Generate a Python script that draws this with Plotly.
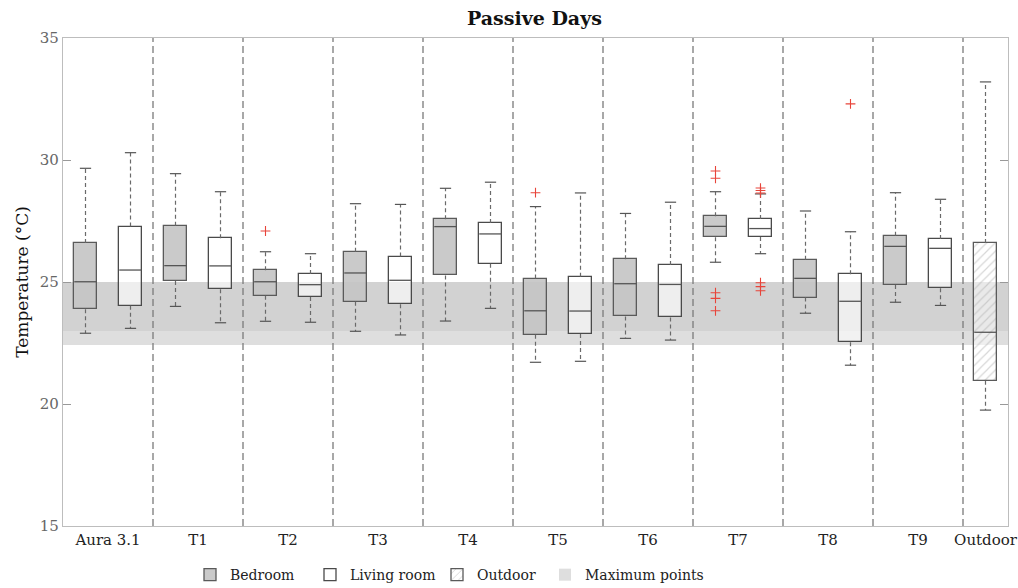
import plotly.graph_objects as go

# ---------------- data ----------------
groups = ["Aura 3.1", "T1", "T2", "T3", "T4", "T5", "T6", "T7", "T8", "T9"]

# Bedroom boxes (one per group)
bed_low = [22.90, 24.00, 23.39, 22.98, 23.40, 21.71, 22.69, 25.81, 23.72, 24.17]
bed_q1 = [23.88, 25.04, 24.44, 24.19, 25.27, 22.84, 23.59, 26.83, 24.36, 24.88]
bed_med = [25.01, 25.67, 25.01, 25.37, 27.27, 23.82, 24.93, 27.28, 25.15, 26.46]
bed_q3 = [26.60, 27.31, 25.48, 26.24, 27.57, 25.14, 25.93, 27.69, 25.91, 26.90]
bed_high = [29.66, 29.44, 26.24, 28.21, 28.84, 28.09, 27.81, 28.70, 27.91, 28.66]

# Living room boxes
liv_low = [23.10, 23.33, 23.35, 22.83, 23.92, 21.75, 22.62, 26.16, 21.59, 24.04]
liv_q1 = [24.03, 24.70, 24.39, 24.09, 25.75, 22.87, 23.55, 26.84, 22.53, 24.74]
liv_med = [25.49, 25.66, 24.89, 25.07, 26.97, 23.81, 24.90, 27.19, 24.21, 26.38]
liv_q3 = [27.27, 26.79, 25.33, 26.04, 27.42, 25.22, 25.70, 27.58, 25.32, 26.76]
liv_high = [30.30, 28.70, 26.16, 28.18, 29.09, 28.65, 28.27, 28.61, 27.06, 28.39]

# Outdoor box
out_label = "Outdoor"
out_low, out_q1, out_med, out_q3, out_high = 19.75, 20.95, 22.94, 26.60, 33.20

# Outliers: (box position index, value)
outlier_pos = [5, 11, 15, 15, 15, 15, 15, 16, 16, 16, 16, 16, 16, 18]
outlier_val = [27.09, 28.66, 29.55, 29.25, 24.56, 24.33, 23.82,
               28.85, 28.75, 28.65, 24.97, 24.81, 24.64, 32.30]

# Maximum-points band and inner band
band_outer = (22.40, 25.00)
band_inner = (23.00, 25.00)

legend_names = ["Bedroom", "Living room", "Outdoor", "Maximum points"]

# ---------------- positions ----------------
bed_x = [1 + 2 * i for i in range(len(groups))]
liv_x = [2 + 2 * i for i in range(len(groups))]
out_x = 2 * len(groups) + 1
sep_x = [2.5 + 2 * i for i in range(len(groups))]
tick_vals = [1.5 + 2 * i for i in range(len(groups))] + [out_x]
tick_text = groups + [out_label]
BW = 0.5
CAP = 0.125
XMIN, XMAX = 0.5, out_x + 0.5

SERIF = "DejaVu Serif"
fig = go.Figure()

# Bands as wide bars (drawn first)
fig.add_trace(go.Bar(x=[(XMIN + XMAX) / 2], y=[band_outer[1] - band_outer[0]], base=[band_outer[0]],
                     width=[XMAX - XMIN], marker=dict(color="#dedede", line=dict(width=0)),
                     name=legend_names[3], legend="legend4", hoverinfo="skip"))
fig.add_trace(go.Bar(x=[(XMIN + XMAX) / 2], y=[band_inner[1] - band_inner[0]], base=[band_inner[0]],
                     width=[XMAX - XMIN], marker=dict(color="#d2d2d2", line=dict(width=0)),
                     showlegend=False, hoverinfo="skip"))

# Boxes as bars
fig.add_trace(go.Bar(x=bed_x, y=[b - a for a, b in zip(bed_q1, bed_q3)], base=bed_q1, width=BW,
                     marker=dict(color="rgba(196,196,196,0.9)", line=dict(color="#5a5a5a", width=1.3)),
                     name=legend_names[0], legend="legend"))
fig.add_trace(go.Bar(x=liv_x, y=[b - a for a, b in zip(liv_q1, liv_q3)], base=liv_q1, width=BW,
                     marker=dict(color="rgba(255,255,255,0.62)", line=dict(color="#4a4a4a", width=1.3)),
                     name=legend_names[1], legend="legend2"))
fig.add_trace(go.Bar(x=[out_x], y=[out_q3 - out_q1], base=[out_q1], width=BW,
                     marker=dict(color="rgba(255,255,255,0.5)", line=dict(color="#5a5a5a", width=1.3),
                                 pattern=dict(shape="/", fgcolor="#b0b0b0", size=6, solidity=0.2)),
                     name=legend_names[2], legend="legend3"))

# Whiskers, caps, medians
all_x = bed_x + liv_x + [out_x]
all_low = bed_low + liv_low + [out_low]
all_q1 = bed_q1 + liv_q1 + [out_q1]
all_med = bed_med + liv_med + [out_med]
all_q3 = bed_q3 + liv_q3 + [out_q3]
all_high = bed_high + liv_high + [out_high]

wx, wy, cx, cy, mx, my = [], [], [], [], [], []
for x, lo, q1, md, q3, hi in zip(all_x, all_low, all_q1, all_med, all_q3, all_high):
    wx += [x, x, None, x, x, None]
    wy += [q3, hi, None, q1, lo, None]
    cx += [x - CAP, x + CAP, None, x - CAP, x + CAP, None]
    cy += [hi, hi, None, lo, lo, None]
    mx += [x - BW / 2, x + BW / 2, None]
    my += [md, md, None]

fig.add_trace(go.Scatter(x=wx, y=wy, mode="lines", line=dict(color="#6a6a6a", width=1.2, dash="4px,3px"),
                         showlegend=False, hoverinfo="skip"))
fig.add_trace(go.Scatter(x=cx, y=cy, mode="lines", line=dict(color="#555", width=1.2),
                         showlegend=False, hoverinfo="skip"))
fig.add_trace(go.Scatter(x=mx, y=my, mode="lines", line=dict(color="#555", width=1.3),
                         showlegend=False, hoverinfo="skip"))
fig.add_trace(go.Scatter(x=outlier_pos, y=outlier_val, mode="markers",
                         marker=dict(symbol="cross-thin", size=7, line=dict(color="#e8443a", width=1.1)),
                         showlegend=False, hoverinfo="skip"))

# Separators
for s in sep_x:
    fig.add_shape(type="line", x0=s, x1=s, y0=15, y1=35, xref="x", yref="y",
                  line=dict(color="#7a7a7a", width=1.3, dash="7px,4px"), layer="above")

PL, PR = 63, 1008
def px2paper(p):
    return (p - PL) / (PR - PL)

leg_common = dict(orientation="h", yref="container", y=0.022, yanchor="middle", xanchor="left",
                  font=dict(family=SERIF, size=14, color="#222"), bgcolor="rgba(0,0,0,0)",
                  borderwidth=0, itemwidth=30)
text_starts = [190, 310, 437, 545]

fig.update_layout(
    width=1018, height=588,
    margin=dict(l=PL, r=1018 - PR, t=38, b=62, autoexpand=False),
    plot_bgcolor="white", paper_bgcolor="white",
    barmode="overlay", bargap=0,
    title=dict(text="<b>Passive Days</b>", x=0.525, xanchor="center", y=0.968, yanchor="middle",
               font=dict(family=SERIF, size=19, color="#111")),
    font=dict(family=SERIF, color="#333"),
    xaxis=dict(range=[XMIN, XMAX], tickvals=tick_vals, ticktext=tick_text, ticks="",
               showgrid=False, zeroline=False, showline=True, linecolor="#bdbdbd", linewidth=1.2,
               mirror=True, automargin=False, tickfont=dict(family=SERIF, size=15, color="#222")),
    yaxis=dict(range=[15, 35], tickvals=[15, 20, 25, 30, 35], ticks="inside", ticklen=8,
               tickcolor="#999", showgrid=False, zeroline=False, showline=True, linecolor="#bdbdbd",
               linewidth=1.2, mirror="ticks", automargin=False,
               tickfont=dict(family=SERIF, size=15, color="#666"),
               title=dict(text="Temperature (°C)", font=dict(family=SERIF, size=17, color="#111"),
                          standoff=6)),
    legend=dict(x=px2paper(text_starts[0]), **leg_common),
    legend2=dict(x=px2paper(text_starts[1]), **leg_common),
    legend3=dict(x=px2paper(text_starts[2]), **leg_common),
    legend4=dict(x=px2paper(text_starts[3]), **leg_common),
    showlegend=True,
)

fig.write_html("out.html")
